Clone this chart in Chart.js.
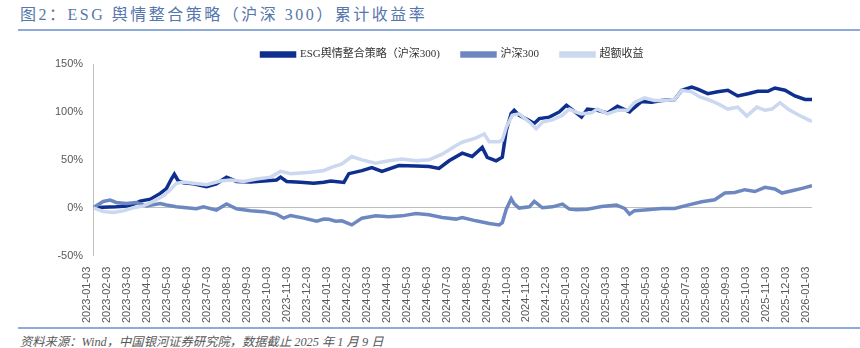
<!DOCTYPE html>
<html>
<head>
<meta charset="utf-8">
<script src="https://cdn.jsdelivr.net/npm/chart.js@4.4.1/dist/chart.umd.min.js"></script>
<style>
  body { margin: 0; background: #fff; }
  #wrap { position: relative; width: 860px; height: 348px; overflow: hidden; }
  #title { position: absolute; left: 20px; top: 1px; font: 16px 'Liberation Serif', 'Noto Sans CJK SC', serif; letter-spacing: 2.5px; color: #5676ad; }
  .rule { position: absolute; left: 18px; right: 0; height: 2px; background: #8eaadb; }
  #box { position: absolute; left: 0; top: 27px; width: 860px; height: 299px; }
  #note { position: absolute; left: 20px; top: 332px; font: italic 12.3px 'Liberation Serif', 'Noto Sans CJK SC', serif; color: #595959; }
</style>
</head>
<body>
<div id="wrap">
  <div id="title">图2：ESG 舆情整合策略（沪深 300）累计收益率</div>
  <div class="rule" style="top:29px"></div>
  <div id="box"><canvas id="c"></canvas></div>
  <div class="rule" style="top:327px"></div>
  <div id="note">资料来源：Wind，中国银河证券研究院，数据截止 2025 年 1 月 9 日</div>
</div>
<script>
// x axis tick labels, one per month (x value = months since 2023-01-03)
var tickLabels = [
  '2023-01-03','2023-02-03','2023-03-03','2023-04-03','2023-05-03','2023-06-03',
  '2023-07-03','2023-08-03','2023-09-03','2023-10-03','2023-11-03','2023-12-03',
  '2024-01-03','2024-02-03','2024-03-03','2024-04-03','2024-05-03','2024-06-03',
  '2024-07-03','2024-08-03','2024-09-03','2024-10-03','2024-11-03','2024-12-03',
  '2025-01-03','2025-02-03','2025-03-03','2025-04-03','2025-05-03','2025-06-03',
  '2025-07-03','2025-08-03','2025-09-03','2025-10-03','2025-11-03','2025-12-03',
  '2026-01-03'
];

// ESG舆情整合策略（沪深300）
var esgMonths = [0, 0.5, 1.16, 1.87, 2.37, 2.88, 3.38, 3.69, 3.94, 4.09, 4.29, 4.55, 5.05, 5.71, 6.21, 6.72,
  7.22, 7.93, 8.59, 9.24, 9.44, 9.75, 10.45, 11.11, 11.62, 11.97, 12.63, 12.88, 13.54, 14.04, 14.55, 15.4,
  16.26, 16.92, 17.42, 17.93, 18.59, 19.09, 19.6, 19.85, 20.3, 20.61, 20.81, 21.06, 21.21, 21.46, 21.97,
  22.22, 22.47, 22.98, 23.48, 23.84, 24.24, 24.6, 24.9, 25.4, 25.91, 26.41, 27.02, 27.17, 27.63, 28.13,
  28.64, 29.29, 29.65, 30.15, 30.45, 30.96, 31.46, 31.97, 32.47, 32.98, 33.48, 33.99, 34.34, 34.85, 35.35,
  35.86, 36.21];
var esgValues = [0, 0.5, 1, 2, 7, 9, 15, 20, 30, 35, 28, 26, 25, 22, 25, 32,
  27.5, 27, 28, 29, 32, 27.5, 26.6, 25.5, 26.6, 28, 26.5, 35.6, 38.8, 42, 38, 44,
  43.5, 43, 41, 49, 57, 53.5, 63, 52.7, 49, 52.7, 80.7, 98.5, 101.7, 96.4, 91,
  88, 93, 94.6, 100, 107, 100.6, 94.6, 103, 101.7, 99, 106, 100, 103, 111, 110,
  112, 113, 122.6, 126, 123.7, 119, 121, 122.6, 116.7, 119, 121.6, 121.6, 125, 122.6, 116.7,
  113, 113];

// 沪深300
var hsMonths = [0, 0.51, 0.86, 1.16, 1.67, 2.17, 2.68, 3.38, 3.69, 4.19, 4.7, 5.2, 5.56, 6.21, 6.72, 7.22,
  7.93, 8.59, 9.24, 9.6, 9.95, 10.61, 11.26, 11.62, 11.87, 12.22, 12.53, 13.03, 13.54, 14.24, 14.9, 15.56,
  16.26, 16.92, 17.58, 18.28, 18.59, 19.29, 19.95, 20.45, 20.61, 20.81, 21.06, 21.21, 21.46, 21.97, 22.22,
  22.63, 23.13, 23.64, 23.99, 24.34, 24.9, 25.61, 26.36, 26.77, 27.02, 27.27, 27.93, 28.64, 29.29, 29.95,
  30.66, 31.31, 31.82, 32.32, 32.83, 33.33, 33.84, 34.34, 34.7, 35.2, 35.71, 36.21];
var hsValues = [0, 6.6, 8, 5.6, 4.5, 5.6, 2, 4.5, 3, 1, 0, -1, 1, -2.4, 4, -1,
  -3, -4, -6.6, -10.8, -8, -10.8, -14, -11.8, -12, -14, -13.6, -17.8, -10.8, -8.4, -9.4, -8.4,
  -6, -7.3, -10.1, -11.8, -10.1, -13.6, -16.4, -17.8, -15.4, -1.4, 9.4, 4, -0.3, 1, 6.6,
  0, 1, 3.8, -1.4, -2, -1.4, 1.4, 2.8, -0.7, -6.6, -3, -2, -0.7, -0.7, 2.8,
  6.3, 8.4, 15.4, 16, 18.9, 17, 21.3, 19.6, 15.4, 17.8, 20.3, 23];

// 超额收益
var exMonths = [0, 0.51, 1.01, 1.52, 2.02, 2.53, 3.03, 3.54, 3.89, 4.19, 4.55, 5.05, 5.71, 6.41, 6.92, 7.58,
  8.23, 8.94, 9.44, 9.95, 10.96, 11.62, 11.97, 12.53, 13.03, 13.54, 14.24, 14.9, 15.56, 16.26, 16.92, 17.58,
  18.28, 18.59, 19.29, 19.7, 19.95, 20.45, 20.61, 20.81, 21.11, 21.46, 21.97, 22.32, 22.63, 23.13, 23.64,
  23.99, 24.29, 24.6, 25.1, 25.4, 25.91, 26.41, 26.92, 27.27, 27.78, 28.28, 28.79, 29.29, 29.65, 30.15,
  30.56, 30.96, 31.46, 31.97, 32.47, 32.93, 33.43, 33.84, 34.19, 34.6, 35, 35.51, 36.01, 36.21];
var exValues = [0, -3.8, -4.8, -3, 0, 2, 6.6, 12.6, 18.9, 25.5, 27, 25.5, 24, 28, 29, 27.5,
  30, 32, 38, 35.6, 37, 38.8, 42, 45.8, 53.5, 50, 46.4, 49, 51, 49, 50, 56,
  65, 68.4, 73, 77, 69, 69, 70.5, 84, 96.4, 98, 89.4, 82.5, 89.4, 91.7, 96.4,
  103, 100, 98, 99, 103, 98, 101.7, 101.7, 110, 114.6, 112, 112, 113, 122.6, 121,
  115.6, 113, 108.7, 103, 105, 95.7, 105, 101.7, 103, 109.7, 103, 97, 92, 90];

function pts(xs, ys) {
  return xs.map(function(x, i) { return {x: x, y: ys[i]}; });
}

var sans = "'Liberation Sans', 'Noto Sans CJK SC', sans-serif";
var serif = "'Liberation Serif', 'Noto Sans CJK SC', serif";

// pull the plot a bit closer to the legend, and nudge the legend right
var legendGap = {
  id: 'legendGap',
  afterInit: function(chart) {
    var fit = chart.legend.fit;
    chart.legend.fit = function() {
      fit.call(this);
      this.height -= 6;
    };
  },
  afterLayout: function(chart) {
    chart.legend.left += 24;
    chart.legend.right += 24;
  }
};

var ctx = document.getElementById('c');
var myChart = new Chart(ctx, {
  type: 'line',
  data: {
    datasets: [{
      label: 'ESG舆情整合策略（沪深300)',
      data: pts(esgMonths, esgValues),
      borderColor: '#0f2f8e',
      backgroundColor: '#0f2f8e',
      borderWidth: 3.5,
      order: 2
    }, {
      label: '沪深300',
      data: pts(hsMonths, hsValues),
      borderColor: '#6d88c1',
      backgroundColor: '#6d88c1',
      borderWidth: 3.5,
      order: 1
    }, {
      label: '超额收益',
      data: pts(exMonths, exValues),
      borderColor: '#cbd8ef',
      backgroundColor: '#cbd8ef',
      borderWidth: 3.5,
      order: 0
    }]
  },
  plugins: [legendGap],
  options: {
    responsive: true,
    maintainAspectRatio: false,
    animation: false,
    elements: { point: { radius: 0 }, line: { tension: 0 } },
    layout: { padding: { left: 45, right: 48, top: 0, bottom: 0 } },
    plugins: {
      legend: {
        position: 'top',
        labels: {
          boxWidth: 33,
          boxHeight: 3,
          color: '#333',
          padding: 22,
          font: { family: serif, size: 11 },
          sort: function(a, b) { return a.datasetIndex - b.datasetIndex; }
        }
      },
      tooltip: { enabled: false }
    },
    scales: {
      x: {
        type: 'linear',
        min: 0,
        max: 36.21,
        display: false
      },
      months: {
        type: 'category',
        position: 'bottom',
        labels: tickLabels,
        offset: false,
        border: { display: false },
        grid: { display: false },
        ticks: {
          autoSkip: false,
          minRotation: 90,
          maxRotation: 90,
          labelOffset: -6,
          color: '#595959',
          font: { family: sans, size: 11 }
        }
      },
      y: {
        min: -50,
        max: 150,
        border: { display: true, color: '#bfbfbf', width: 1 },
        grid: {
          drawTicks: false,
          color: function(c) { return c.tick && c.tick.value === 0 ? '#bfbfbf' : 'rgba(0,0,0,0)'; }
        },
        ticks: {
          stepSize: 50,
          padding: 10,
          color: '#595959',
          font: { family: sans, size: 11 },
          callback: function(v) { return v + '%'; }
        }
      }
    }
  }
});
</script>
</body>
</html>
